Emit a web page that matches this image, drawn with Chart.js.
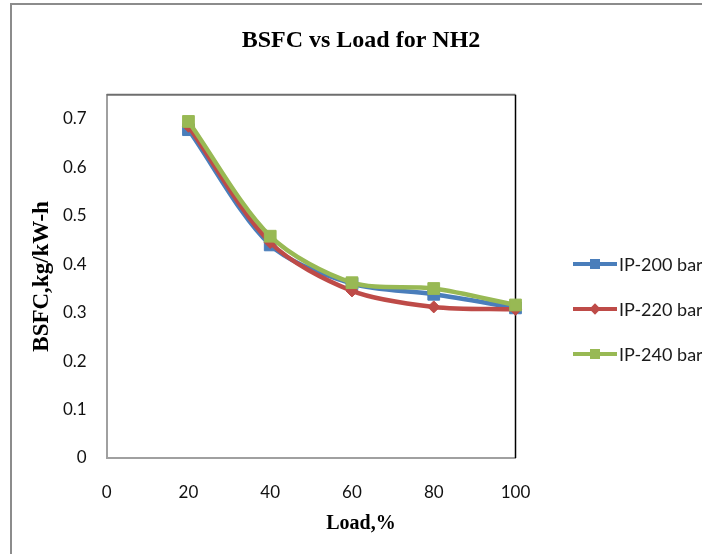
<!DOCTYPE html>
<html>
<head>
<meta charset="utf-8">
<title>BSFC vs Load for NH2</title>
<script src="https://cdn.jsdelivr.net/npm/chart.js@4.4.1/dist/chart.umd.min.js"></script>
<style>
  html, body { margin: 0; padding: 0; background: #fff; overflow: hidden; }
  #wrap { position: relative; width: 702px; height: 554px; overflow: hidden; }
  #legend { position: absolute; left: 573px; top: 241px; font-family: Lato, "Open Sans", sans-serif; font-size: 18px; color: #1a1a1a; white-space: nowrap; }
  .item { height: 45px; display: flex; align-items: center; }
  .sym { position: relative; width: 44px; height: 4px; margin-right: 2px; flex: none; }
  .mk { position: absolute; left: 17px; top: -3px; width: 10px; height: 10px; }
  .mk.dia { left: 18px; top: -2px; width: 8px; height: 8px; transform: rotate(45deg); }
</style>
</head>
<body>
<div id="wrap">
  <canvas id="grafico" width="702" height="554"></canvas>
  <div id="legend"></div>
</div>
<script>
const loads = [20, 40, 60, 80, 100];
const ip200 = [0.678, 0.44, 0.36, 0.338, 0.31];
const ip220 = [0.685, 0.445, 0.345, 0.312, 0.307];
const ip240 = [0.695, 0.458, 0.362, 0.35, 0.316];
const seriesNames = ['IP-200 bar', 'IP-220 bar', 'IP-240 bar'];
const xTicks = [0, 20, 40, 60, 80, 100];
const yTicks = [0, 0.1, 0.2, 0.3, 0.4, 0.5, 0.6, 0.7];

const puntos = vals => loads.map((x, i) => ({ x: x, y: vals[i] }));
const serif = "'Liberation Serif', 'Times New Roman', serif";
const sans = "Lato, 'Open Sans', sans-serif";

// outer chart frame + top/right edge of the plot area
const marco = {
    id: 'marco',
    beforeDraw(chart) {
        const ctx = chart.ctx;
        ctx.save();
        ctx.strokeStyle = '#8c8c8c';
        ctx.lineWidth = 2;
        ctx.strokeRect(11, 4, 900, 900);
        ctx.restore();
    },
    beforeDatasetsDraw(chart) {
        const { ctx, chartArea: a } = chart;
        ctx.save();
        ctx.strokeStyle = '#6e6e6e';
        ctx.lineWidth = 2;
        ctx.beginPath();
        ctx.moveTo(a.left, a.top);
        ctx.lineTo(a.right, a.top);
        ctx.stroke();
        ctx.strokeStyle = '#000';
        ctx.lineWidth = 1.5;
        ctx.beginPath();
        ctx.moveTo(a.right, a.top);
        ctx.lineTo(a.right, a.bottom);
        ctx.stroke();
        ctx.restore();
    }
};

// legend as html, built from the datasets
const leyenda = {
    id: 'leyenda',
    afterUpdate(chart) {
        const box = document.getElementById('legend');
        box.innerHTML = chart.data.datasets.map(ds => `
            <div class="item">
                <span class="sym" style="background:${ds.borderColor}">
                    <span class="mk ${ds.pointStyle === 'rectRot' ? 'dia' : ''}" style="background:${ds.borderColor}"></span>
                </span>${ds.label}
            </div>`).join('');
    }
};

new Chart(document.getElementById('grafico'), {
    type: 'line',
    data: {
        datasets: [
            { label: seriesNames[0], data: puntos(ip200), borderColor: '#4a7ebb', backgroundColor: '#4a7ebb', pointStyle: 'rect', pointRadius: 8.3, order: 3 },
            { label: seriesNames[1], data: puntos(ip220), borderColor: '#be4b48', backgroundColor: '#be4b48', pointStyle: 'rectRot', pointRadius: 6, order: 2 },
            { label: seriesNames[2], data: puntos(ip240), borderColor: '#98b954', backgroundColor: '#98b954', pointStyle: 'rect', pointRadius: 8.3, order: 1 }
        ]
    },
    options: {
        responsive: false,
        animation: false,
        layout: { padding: { left: 20, right: 0, top: 0, bottom: 0 } },
        elements: {
            line: { borderWidth: 4.5, tension: 0.3 },
            point: { borderWidth: 1, hoverRadius: 8 }
        },
        datasets: { line: { clip: false } },
        plugins: {
            legend: { display: false },
            tooltip: { enabled: false },
            title: {
                display: true,
                text: 'BSFC vs Load for NH2',
                color: '#000',
                font: { family: serif, size: 24, weight: 'bold' },
                padding: { top: 26, bottom: 40 }
            },
            subtitle: {
                display: true,
                position: 'bottom',
                text: 'Load,%',
                color: '#000',
                font: { family: serif, size: 20, weight: 'bold' },
                padding: { top: 0, bottom: 18 }
            }
        },
        scales: {
            x: {
                type: 'linear',
                min: 0,
                max: 100,
                grid: { display: false, drawTicks: false },
                border: { display: true, color: '#a0a0a0', width: 2 },
                ticks: { color: '#111', font: { family: sans, size: 17 }, padding: 24 },
                afterBuildTicks: s => { s.ticks = xTicks.map(v => ({ value: v })); },
                afterFit: s => { s.height = 54; }
            },
            y: {
                type: 'linear',
                min: 0,
                max: 0.75,
                grid: { display: false, drawTicks: false },
                border: { display: true, color: '#a0a0a0', width: 2 },
                ticks: { color: '#111', font: { family: sans, size: 17 }, padding: 20 },
                afterBuildTicks: s => { s.ticks = yTicks.map(v => ({ value: v })); },
                afterFit: s => { s.width = 86.7; },
                title: {
                    display: true,
                    text: 'BSFC,kg/kW-h',
                    color: '#000',
                    font: { family: serif, size: 23, weight: 'bold' },
                    padding: { top: 8, bottom: 0 }
                }
            },
            y2: {
                type: 'linear',
                position: 'right',
                grid: { display: false, drawTicks: false },
                border: { display: false },
                ticks: { display: false },
                afterFit: s => { s.width = 186.5; }
            }
        }
    },
    plugins: [marco, leyenda]
});
</script>
</body>
</html>
